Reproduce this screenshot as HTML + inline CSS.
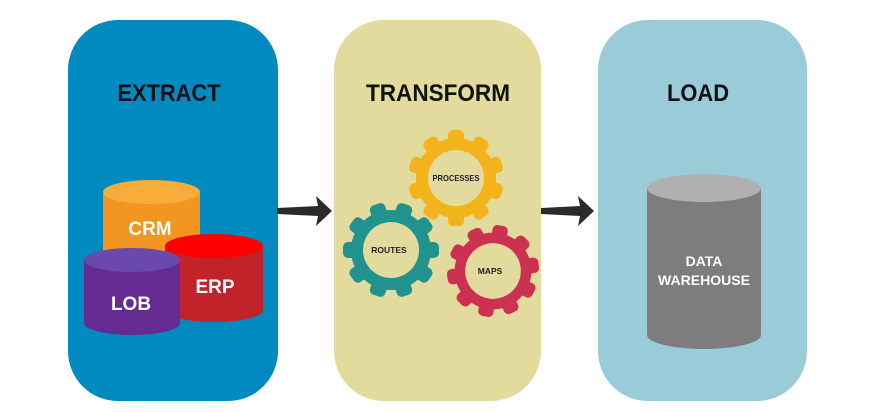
<!DOCTYPE html>
<html><head><meta charset="utf-8"><style>
html,body{margin:0;padding:0;background:#fff;}
svg{display:block;}
text{font-family:"Liberation Sans",sans-serif;font-weight:bold;}
</style></head><body>
<svg width="871" height="412" viewBox="0 0 871 412" xmlns="http://www.w3.org/2000/svg">
<defs>
<g id="teeth">
<rect x="-8" y="-48" width="16" height="16" rx="5"/>
<rect x="-8" y="-48" width="16" height="16" rx="5" transform="rotate(36)"/>
<rect x="-8" y="-48" width="16" height="16" rx="5" transform="rotate(72)"/>
<rect x="-8" y="-48" width="16" height="16" rx="5" transform="rotate(108)"/>
<rect x="-8" y="-48" width="16" height="16" rx="5" transform="rotate(144)"/>
<rect x="-8" y="-48" width="16" height="16" rx="5" transform="rotate(180)"/>
<rect x="-8" y="-48" width="16" height="16" rx="5" transform="rotate(216)"/>
<rect x="-8" y="-48" width="16" height="16" rx="5" transform="rotate(252)"/>
<rect x="-8" y="-48" width="16" height="16" rx="5" transform="rotate(288)"/>
<rect x="-8" y="-48" width="16" height="16" rx="5" transform="rotate(324)"/>
<circle r="40"/>
</g>
</defs>
<rect x="68" y="20" width="210" height="381" rx="50" fill="#018abf"/>
<rect x="334" y="20" width="207" height="381" rx="50" fill="#e3db9e"/>
<rect x="598" y="20" width="209" height="381" rx="50" fill="#9acbd9"/>

<text x="169" y="101" font-size="24" text-anchor="middle" fill="#111" textLength="103" lengthAdjust="spacingAndGlyphs">EXTRACT</text>
<text x="438" y="101" font-size="24" text-anchor="middle" fill="#111" textLength="144" lengthAdjust="spacingAndGlyphs">TRANSFORM</text>
<text x="698" y="101" font-size="24" text-anchor="middle" fill="#111" textLength="62" lengthAdjust="spacingAndGlyphs">LOAD</text>

<path d="M277 208 L318 206 L316 196 L332 211 L316 226 L318 216 L277 214 Z" fill="#2b2b2b"/>
<path d="M541 208 L580 206 L578 196 L594 211 L578 226 L580 216 L541 214 Z" fill="#2b2b2b"/>

<path d="M103 192 L103 250 A48.5 12 0 0 0 200 250 L200 192 Z" fill="#f39521"/>
<ellipse cx="151.5" cy="192" rx="48.5" ry="12" fill="#f8ad3a"/>
<text x="150" y="235" font-size="19" text-anchor="middle" fill="#fff">CRM</text>
<path d="M165 246 L165 310 A49 12 0 0 0 263 310 L263 246 Z" fill="#c1232b"/>
<ellipse cx="214" cy="246" rx="49" ry="12" fill="#fe0000"/>
<text x="215" y="293" font-size="19" text-anchor="middle" fill="#fff">ERP</text>
<path d="M84 260 L84 323 A48 12 0 0 0 180 323 L180 260 Z" fill="#662b93"/>
<ellipse cx="132" cy="260" rx="48" ry="12" fill="#6a48ac"/>
<text x="131" y="310" font-size="19" text-anchor="middle" fill="#fff">LOB</text>

<path d="M647 188 L647 335 A57 14 0 0 0 761 335 L761 188 Z" fill="#7d7d7d"/>
<ellipse cx="704" cy="188" rx="57" ry="14" fill="#b0b0b0"/>
<text x="704" y="266" font-size="14" text-anchor="middle" fill="#fff">DATA</text>
<text x="704" y="285" font-size="14" text-anchor="middle" fill="#fff" textLength="92" lengthAdjust="spacingAndGlyphs">WAREHOUSE</text>

<g transform="translate(456,178)" fill="#f2b41a"><use href="#teeth"/><circle r="28" fill="#e3db9e"/></g>
<text x="456" y="181" font-size="8.5" text-anchor="middle" fill="#222" textLength="47" lengthAdjust="spacingAndGlyphs">PROCESSES</text>
<g transform="translate(391,250) rotate(18)" fill="#20938e"><use href="#teeth"/><circle r="28" fill="#e3db9e"/></g>
<text x="389" y="253" font-size="8.5" text-anchor="middle" fill="#222">ROUTES</text>
<g transform="translate(493,271) rotate(10) scale(0.96)" fill="#cd3152"><use href="#teeth"/><circle r="29" fill="#e3db9e"/></g>
<text x="490" y="274" font-size="8.5" text-anchor="middle" fill="#222">MAPS</text>
</svg>
</body></html>
